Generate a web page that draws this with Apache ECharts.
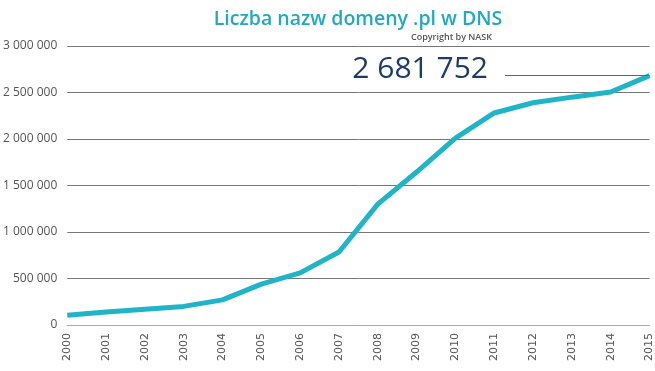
<!DOCTYPE html>
<html>
<head>
<meta charset="utf-8">
<script src="https://cdn.jsdelivr.net/npm/echarts@6/dist/echarts.min.js"></script>
<style>html,body{margin:0;padding:0;background:#fff}#c{width:655px;height:371px}</style>
</head>
<body>
<div id="c"></div>
<script>
var years = ['2000','2001','2002','2003','2004','2005','2006','2007','2008','2009','2010','2011','2012','2013','2014','2015'];
var domains = [105000, 140000, 170000, 200000, 270000, 440000, 560000, 785000, 1300000, 1645000, 2010000, 2280000, 2390000, 2450000, 2505000, 2681752];
var titleText = 'Liczba nazw domeny .pl w DNS';
var copyrightText = 'Copyright by NASK';

function fmt(v){ return String(Math.round(v)).replace(/\B(?=(\d{3})+(?!\d))/g, ' '); }

var chart = echarts.init(document.getElementById('c'));
chart.setOption({
  animation: false,
  backgroundColor: '#fff',
  title: [
    { text: titleText, left: 353, textAlign: 'center', top: 4,
      textStyle: { color: '#22a9bd', fontFamily: 'Open Sans', fontWeight: 600, fontSize: 19.5 } },
    { text: copyrightText, right: 158, top: 28,
      textStyle: { color: '#555', fontFamily: 'Open Sans', fontWeight: 600, fontSize: 9 } },
    { text: fmt(domains[domains.length-1]), right: 162, top: 49,
      textStyle: { color: '#1d3d66', fontFamily: 'Open Sans', fontWeight: 'normal', fontSize: 30 } }
  ],
  grid: { left: 67, right: 4, top: 46, bottom: 46, containLabel: false },
  xAxis: {
    type: 'category', data: years, boundaryGap: false,
    axisLine: { show: true, lineStyle: { color: '#aaa', width: 1 } },
    axisTick: { show: false },
    axisLabel: { rotate: 90, color: '#555', fontFamily: 'DejaVu Sans', fontSize: 11, margin: 8 }
  },
  yAxis: {
    type: 'value', min: 0, max: 3000000, interval: 500000,
    axisLine: { show: false }, axisTick: { show: false },
    splitLine: { lineStyle: { color: '#777', width: 1 } },
    axisLabel: { color: '#555', fontFamily: 'Open Sans', fontSize: 12, margin: 10, formatter: fmt }
  },
  series: [{
    type: 'line', data: domains, symbol: 'none', smooth: false,
    lineStyle: { color: '#1fb4c6', width: 5 },
    markLine: {
      silent: true, symbol: 'none', label: { show: false },
      lineStyle: { color: '#666', width: 1, type: 'solid' },
      data: [[ { x: 505, yAxis: domains[domains.length-1] }, { xAxis: years.length-1, yAxis: domains[domains.length-1] } ]]
    }
  }]
});
</script>
</body>
</html>
